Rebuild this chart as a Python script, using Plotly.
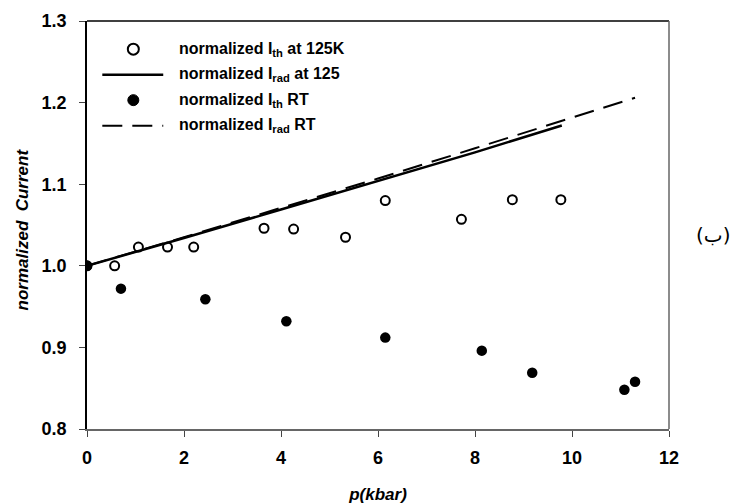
import plotly.graph_objects as go

# Threshold current at 125 K (open circles)
p_th_125 = [0.0, 0.57, 1.06, 1.66, 2.2, 3.65, 4.26, 5.33, 6.15, 7.72, 8.77, 9.77]
i_th_125 = [1.0, 1.0, 1.023, 1.023, 1.023, 1.046, 1.045, 1.035, 1.08, 1.057, 1.081, 1.081]

# Radiative current at 125 (solid line)
p_rad_125 = [0.0, 2.0, 4.0, 6.0, 8.0, 9.79]
i_rad_125 = [1.0, 1.034, 1.069, 1.104, 1.139, 1.172]

# Threshold current at room temperature (filled circles)
p_th_rt = [0.0, 0.7, 2.44, 4.11, 6.15, 8.14, 9.18, 11.08, 11.3]
i_th_rt = [1.0, 0.972, 0.959, 0.932, 0.912, 0.896, 0.869, 0.848, 0.858]

# Radiative current at room temperature (dashed line)
p_rad_rt = [0.0, 2.0, 4.0, 6.0, 8.0, 10.0, 11.3]
i_rad_rt = [1.0, 1.035, 1.071, 1.107, 1.144, 1.182, 1.206]

legend_labels = [
    "normalized I<sub>th</sub> at 125K",
    "normalized I<sub>rad</sub> at 125",
    "normalized I<sub>th</sub> RT",
    "normalized I<sub>rad</sub> RT",
]

x_ticks = [0, 2, 4, 6, 8, 10, 12]
y_ticks = [0.8, 0.9, 1.0, 1.1, 1.2, 1.3]

FONT = "Liberation Sans, Arial, sans-serif"

fig = go.Figure()

fig.add_trace(go.Scatter(x=p_rad_rt, y=i_rad_rt, mode="lines",
                         line=dict(color="black", width=2, dash="20px,10px")))
fig.add_trace(go.Scatter(x=p_rad_125, y=i_rad_125, mode="lines",
                         line=dict(color="black", width=2.5)))
fig.add_trace(go.Scatter(x=p_th_125, y=i_th_125, mode="markers",
                         marker=dict(symbol="circle-open", size=9, color="black",
                                     line=dict(width=2, color="black"))))
fig.add_trace(go.Scatter(x=p_th_rt, y=i_th_rt, mode="markers",
                         marker=dict(symbol="circle", size=10.5, color="black")))

# Legend drawn inside the plot area (paper coordinates)
rows_y = [0.931, 0.868, 0.806, 0.743]
mx, rx, ry = 0.0796, 5.5 / 582, 5.5 / 408
shapes = []
# open circle
shapes.append(dict(type="circle", xref="paper", yref="paper",
                   x0=mx - rx, x1=mx + rx, y0=rows_y[0] - ry, y1=rows_y[0] + ry,
                   line=dict(color="black", width=2), fillcolor="white"))
# solid line
shapes.append(dict(type="line", xref="paper", yref="paper",
                   x0=0.0263, x1=0.131, y0=rows_y[1], y1=rows_y[1],
                   line=dict(color="black", width=2.5)))
# filled circle
shapes.append(dict(type="circle", xref="paper", yref="paper",
                   x0=mx - rx, x1=mx + rx, y0=rows_y[2] - ry, y1=rows_y[2] + ry,
                   line=dict(color="black", width=1), fillcolor="black"))
# dashed line
shapes.append(dict(type="line", xref="paper", yref="paper",
                   x0=0.0263, x1=0.131, y0=rows_y[3], y1=rows_y[3],
                   line=dict(color="black", width=2, dash="20px,10px")))
# frame: top and right edges
shapes.append(dict(type="line", xref="paper", yref="paper", x0=0, x1=1, y0=1, y1=1,
                   line=dict(color="black", width=1.5)))
shapes.append(dict(type="line", xref="paper", yref="paper", x0=1, x1=1, y0=0, y1=1,
                   line=dict(color="#666666", width=1.5)))

annotations = []
for label, yy in zip(legend_labels, rows_y):
    annotations.append(dict(text="<b>" + label + "</b>", xref="paper", yref="paper",
                            x=0.155, y=yy, xanchor="left", yanchor="middle",
                            showarrow=False, font=dict(family=FONT, size=16, color="black")))
# panel label
annotations.append(dict(text="(ب)", xref="paper", yref="paper", x=1.075, y=0.475,
                        xanchor="center", yanchor="middle", showarrow=False,
                        font=dict(family="DejaVu Sans, sans-serif", size=20, color="black")))
# y-axis title
annotations.append(dict(text="<b><i>normalized  Current</i></b>", xref="paper", yref="paper",
                        x=-0.111, y=0.49, xanchor="center", yanchor="middle",
                        textangle=-90, showarrow=False,
                        font=dict(family=FONT, size=17, color="black")))

fig.update_layout(
    width=754, height=504,
    margin=dict(l=87, r=85, t=21, b=75),
    paper_bgcolor="white", plot_bgcolor="white",
    showlegend=False,
    shapes=shapes,
    annotations=annotations,
    font=dict(family=FONT, color="black"),
    xaxis=dict(
        range=[0, 12], tickvals=x_ticks, ticktext=[f"<b>{v}</b>" for v in x_ticks],
        automargin=False,
        showgrid=False, zeroline=False, showline=True, linecolor="#666666", linewidth=1.5,
        ticks="outside", ticklen=6, tickcolor="#444444", tickwidth=1.2,
        ticklabelstandoff=6,
        tickfont=dict(family=FONT, size=18, color="black"),
        title=dict(text="<b><i>p(kbar)</i></b>", font=dict(family=FONT, size=17, color="black"),
                   standoff=22),
    ),
    yaxis=dict(
        range=[0.8, 1.3], tickvals=y_ticks, ticktext=[f"<b>{v:.1f}</b>" for v in y_ticks],
        automargin=False,
        showgrid=False, zeroline=False, showline=True, linecolor="black", linewidth=1.5,
        ticks="outside", ticklen=6, tickcolor="#444444", tickwidth=1.2,
        ticklabelstandoff=9,
        tickfont=dict(family=FONT, size=18, color="black"),
    ),
)

fig.write_html("out.html")
